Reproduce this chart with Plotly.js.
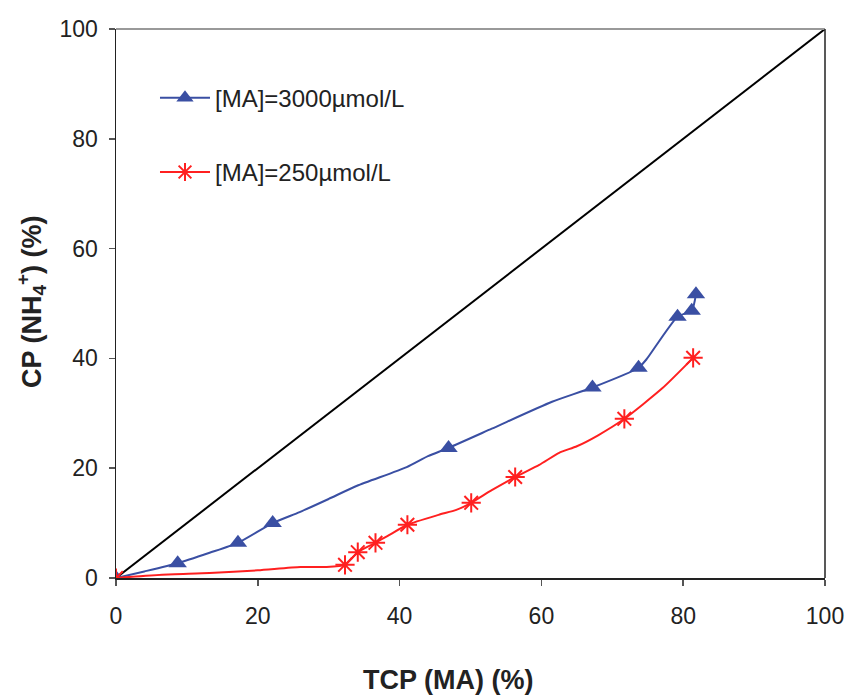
<!DOCTYPE html>
<html>
<head>
<meta charset="utf-8">
<script src="https://cdn.plot.ly/plotly-3.0.1.min.js"></script>
<style>html,body{margin:0;padding:0;background:#fff;}#chart{width:848px;height:699px;}</style>
</head>
<body>
<div id="chart"></div>
<script>
// Series names
var seriesNames = ["[MA]=3000µmol/L", "[MA]=250µmol/L"];

// Blue series (3000 µmol/L): line path points
var blueLineX = [0, 4, 8.7, 13.2, 17.2, 22.1, 25.9, 30, 34, 41, 44, 46.9, 53, 61.5, 67.2, 73.7, 74.8, 79.2, 81.2, 81.8];
var blueLineY = [0, 1.2, 2.7, 4.6, 6.4, 10.0, 12.0, 14.4, 16.8, 20.2, 22.2, 23.7, 27.2, 32.1, 34.7, 38.3, 39.8, 47.6, 48.7, 51.7];
// Blue series measured points (markers)
var blueMarkX = [0, 8.7, 17.2, 22.1, 46.9, 67.2, 73.7, 79.2, 81.2, 81.8];
var blueMarkY = [0, 2.7, 6.4, 10.0, 23.7, 34.7, 38.3, 47.6, 48.7, 51.7];

// Red series (250 µmol/L): line path points
var redLineX = [0, 6.5, 13.2, 20, 26, 29.4, 32.3, 34.1, 36.6, 38.5, 41.1, 45.5, 48, 50.1, 53, 56.3, 59.7, 62.5, 65, 68, 71.7, 77, 81.4];
var redLineY = [0, 0.6, 0.9, 1.4, 2.0, 2.0, 2.4, 4.7, 6.4, 7.8, 9.7, 11.5, 12.4, 13.7, 16.0, 18.4, 20.6, 22.8, 24.0, 26.0, 29.0, 34.5, 40.1];
// Red series measured points (markers)
var redMarkX = [0, 32.3, 34.1, 36.6, 41.1, 50.1, 56.3, 71.7, 81.4];
var redMarkY = [0, 2.4, 4.7, 6.4, 9.7, 13.7, 18.4, 29.0, 40.1];

// Reference 1:1 line
var refX = [0, 100];
var refY = [0, 100];

// Axis ticks and titles
var tickVals = [0, 20, 40, 60, 80, 100];
var xTitle = "TCP (MA) (%)";
var yTitle = "CP (NH<sub>4</sub><sup>+</sup>) (%)";

var blue = "#3a4fa3";
var red = "#ff2020";

var traces = [
  {x: refX, y: refY, mode: "lines", line: {color: "#000", width: 2}, showlegend: false, hoverinfo: "skip"},
  {x: blueLineX, y: blueLineY, mode: "lines", line: {color: blue, width: 2, shape: "spline", smoothing: 0.6}, showlegend: false, legendgroup: "b"},
  {x: blueMarkX, y: blueMarkY, mode: "markers", marker: {symbol: "triangle-up", size: 16, color: blue}, showlegend: false, legendgroup: "b"},
  {x: redLineX, y: redLineY, mode: "lines", line: {color: red, width: 2, shape: "spline", smoothing: 0.6}, showlegend: false, legendgroup: "r"},
  {x: redMarkX, y: redMarkY, mode: "markers", marker: {symbol: "asterisk-open", size: 16, line: {color: red, width: 2}, color: red}, showlegend: false, legendgroup: "r"},
  {x: [null], y: [null], name: seriesNames[0], mode: "lines+markers", line: {color: blue, width: 2}, marker: {symbol: "triangle-up", size: 15, color: blue}, legendgroup: "b"},
  {x: [null], y: [null], name: seriesNames[1], mode: "lines+markers", line: {color: red, width: 2}, marker: {symbol: "asterisk-open", size: 15, line: {color: red, width: 2}, color: red}, legendgroup: "r"}
];

var tickFont = {family: "Liberation Sans, Arial, sans-serif", size: 23, color: "#222"};
var titleFont = {family: "Liberation Sans, Arial, sans-serif", size: 27, color: "#222", weight: "bold"};

var layout = {
  width: 848, height: 699,
  margin: {l: 116, r: 23, t: 29, b: 121},
  paper_bgcolor: "#fff", plot_bgcolor: "#fff",
  showlegend: true,
  legend: {x: 0.055, y: 0.915, xanchor: "left", yanchor: "top", bgcolor: "rgba(0,0,0,0)",
           font: {family: "Liberation Sans, Arial, sans-serif", size: 24, color: "#222"},
           tracegroupgap: 40, itemwidth: 50},
  xaxis: {range: [0, 100], tickvals: tickVals, ticks: "outside", ticklen: 6, tickcolor: "#555", tickwidth: 1.5,
          showgrid: false, zeroline: false, showline: true, linecolor: "#222", linewidth: 1.5,
          tickfont: tickFont, ticklabelstandoff: 11, fixedrange: true},
  yaxis: {range: [0, 100], tickvals: tickVals, ticks: "outside", ticklen: 6, tickcolor: "#555", tickwidth: 1.5,
          showgrid: false, zeroline: false, showline: true, linecolor: "#222", linewidth: 1.5,
          tickfont: tickFont, ticklabelstandoff: 6, fixedrange: true},
  annotations: [
    {text: xTitle, xref: "paper", yref: "paper", x: 0.4676, y: -0.186, xanchor: "center", yanchor: "middle",
     showarrow: false, font: titleFont},
    {text: yTitle, xref: "paper", yref: "paper", x: -0.1197, y: 0.503, xanchor: "center", yanchor: "middle",
     textangle: -90, showarrow: false, font: titleFont}
  ],
  shapes: [
    {type: "line", xref: "paper", yref: "paper", x0: 0, x1: 1, y0: 1, y1: 1, line: {color: "#999", width: 2}},
    {type: "line", xref: "paper", yref: "paper", x0: 1, x1: 1, y0: 0, y1: 1, line: {color: "#222", width: 1.5}}
  ]
};

Plotly.newPlot("chart", traces, layout, {displayModeBar: false, staticPlot: true});
</script>
</body>
</html>
